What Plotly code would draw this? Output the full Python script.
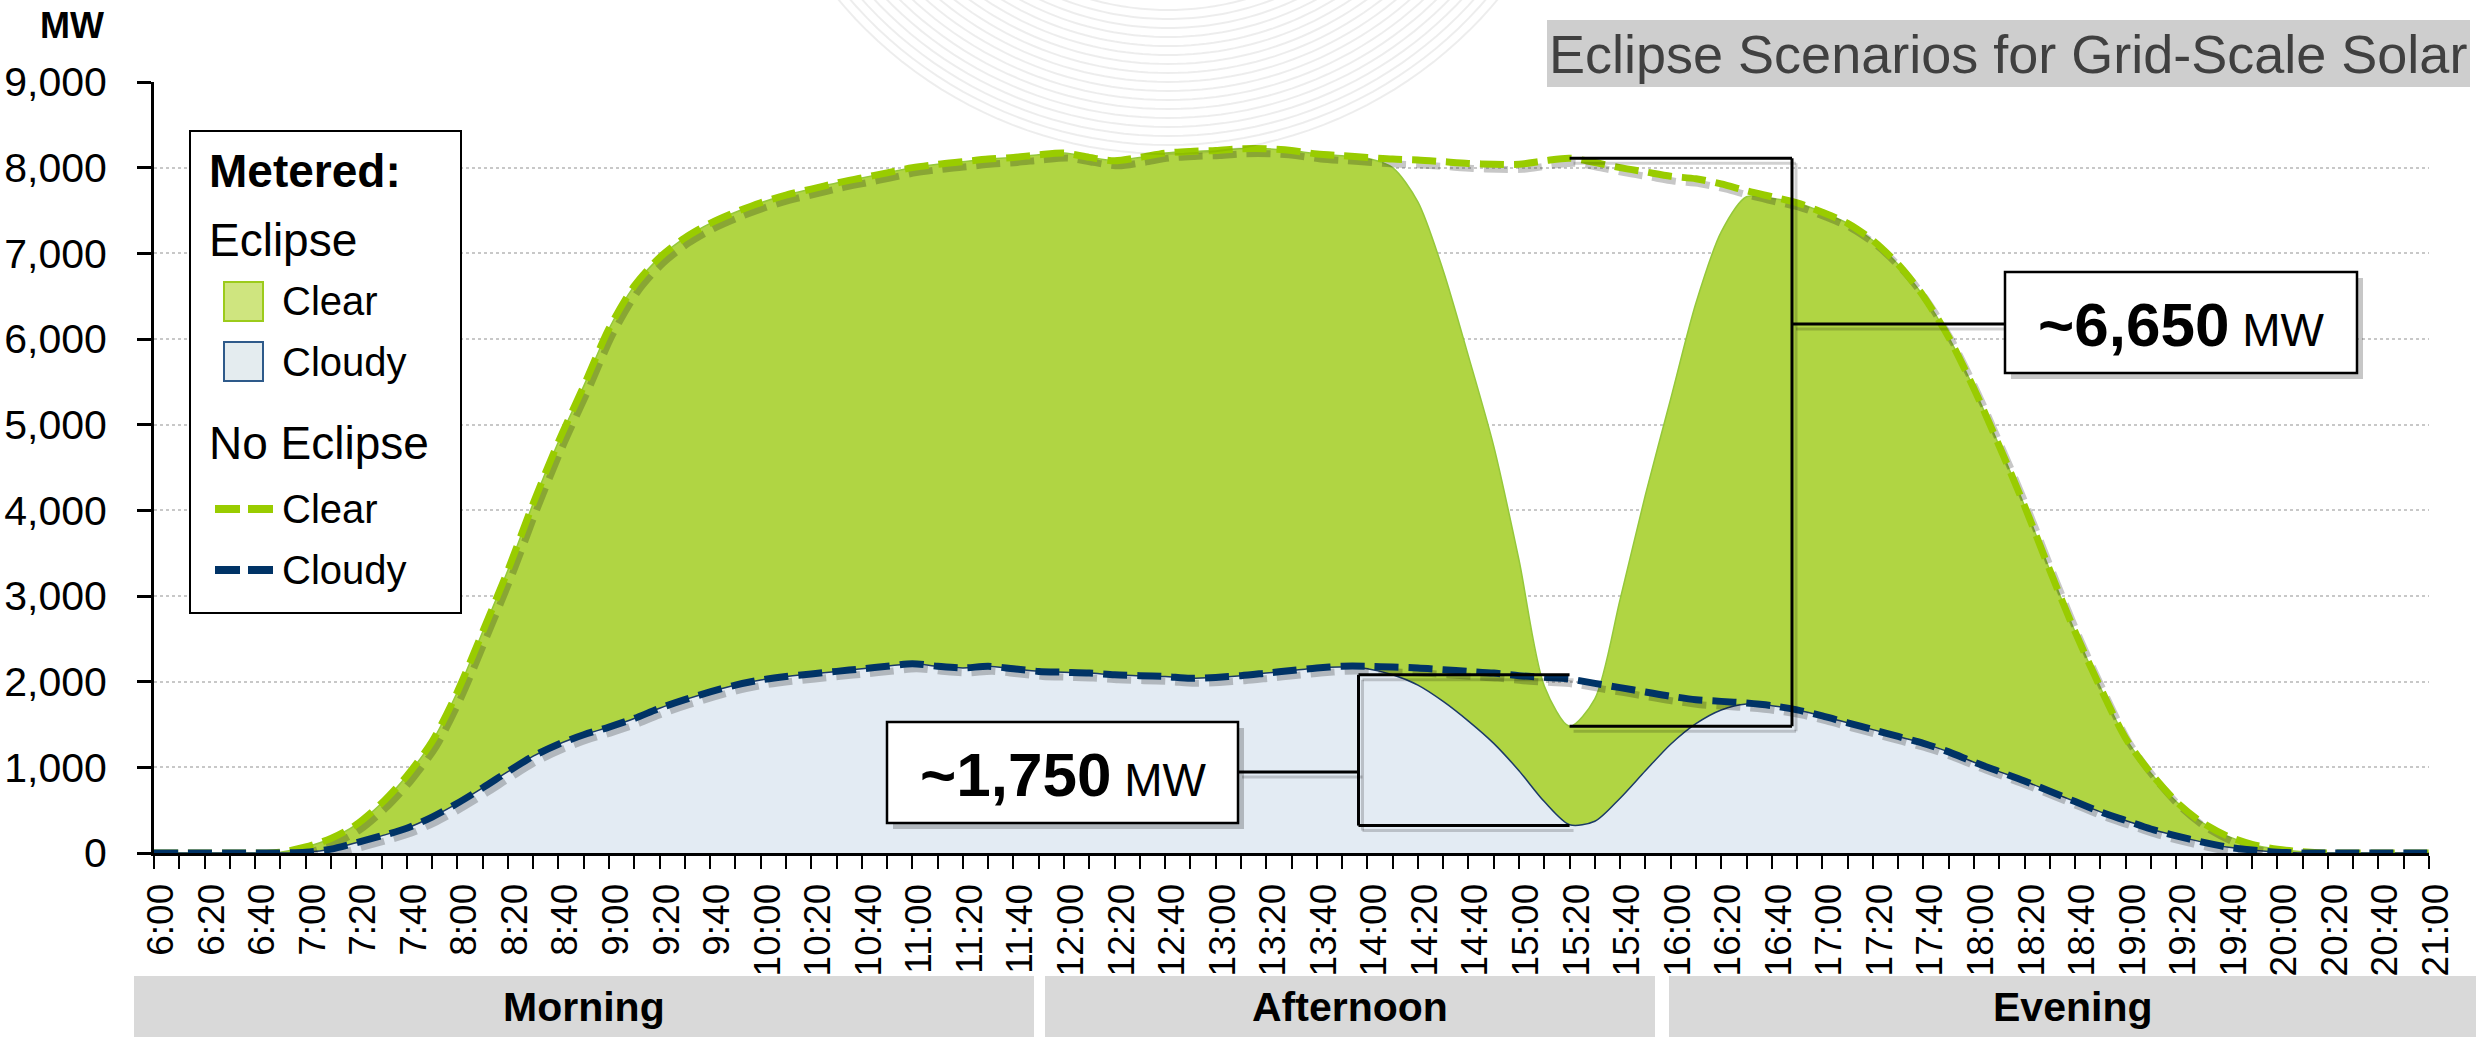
import math
import plotly.graph_objects as go

# ---------------- data ----------------
TIMES = ["6:00", "6:10", "6:20", "6:30", "6:40", "6:50", "7:00", "7:10", "7:20", "7:30", "7:40", "7:50",
         "8:00", "8:10", "8:20", "8:30", "8:40", "8:50", "9:00", "9:10", "9:20", "9:30", "9:40", "9:50",
         "10:00", "10:10", "10:20", "10:30", "10:40", "10:50", "11:00", "11:10", "11:20", "11:30", "11:40", "11:50",
         "12:00", "12:10", "12:20", "12:30", "12:40", "12:50", "13:00", "13:10", "13:20", "13:30", "13:40", "13:50",
         "14:00", "14:10", "14:20", "14:30", "14:40", "14:50", "15:00", "15:10", "15:20", "15:30", "15:40", "15:50",
         "16:00", "16:10", "16:20", "16:30", "16:40", "16:50", "17:00", "17:10", "17:20", "17:30", "17:40", "17:50",
         "18:00", "18:10", "18:20", "18:30", "18:40", "18:50", "19:00", "19:10", "19:20", "19:30", "19:40", "19:50",
         "20:00", "20:10", "20:20", "20:30", "20:40", "20:50", "21:00"]

NO_ECLIPSE_CLEAR = [0, 0, 0, 0, 0, 10, 70, 170, 330, 580, 900, 1300,
                    1880, 2580, 3300, 4080, 4800, 5450, 6120, 6620, 6950, 7180, 7350, 7480,
                    7590, 7680, 7750, 7820, 7880, 7940, 8000, 8040, 8070, 8100, 8120, 8150,
                    8170, 8120, 8080, 8120, 8170, 8190, 8200, 8220, 8220, 8200, 8160, 8140,
                    8120, 8100, 8090, 8070, 8050, 8040, 8040, 8080, 8110, 8060, 8000, 7950,
                    7900, 7870, 7810, 7730, 7660, 7590, 7480, 7350, 7150, 6870, 6500, 6020,
                    5420, 4750, 4050, 3300, 2580, 1930, 1340, 930, 600, 360, 200, 100,
                    45, 15, 0, 0, 0, 0, 0]

NO_ECLIPSE_CLOUDY = [0, 0, 0, 0, 0, 0, 10, 45, 120, 200, 290, 420,
                     580, 760, 950, 1130, 1270, 1380, 1470, 1570, 1690, 1790, 1880, 1960,
                     2020, 2060, 2090, 2120, 2150, 2180, 2210, 2180, 2160, 2180, 2150, 2120,
                     2110, 2100, 2080, 2070, 2060, 2040, 2050, 2070, 2100, 2130, 2160, 2180,
                     2180, 2170, 2160, 2140, 2120, 2100, 2070, 2050, 2030, 1980, 1930, 1880,
                     1830, 1790, 1770, 1750, 1720, 1670, 1600, 1520, 1440, 1360, 1280, 1180,
                     1060, 950, 840, 720, 600, 480, 380, 280, 200, 130, 70, 35,
                     10, 0, 0, 0, 0, 0, 0]

ECLIPSE_CLEAR = [0, 0, 0, 0, 0, 10, 70, 170, 330, 580, 900, 1300,
                 1880, 2580, 3300, 4080, 4800, 5450, 6120, 6620, 6950, 7180, 7350, 7480,
                 7590, 7680, 7750, 7820, 7880, 7940, 8000, 8040, 8070, 8100, 8120, 8150,
                 8170, 8120, 8080, 8120, 8170, 8190, 8200, 8220, 8220, 8200, 8160, 8140,
                 8110, 8000, 7600, 6800, 5800, 4750, 3420, 1950, 1480, 1800, 2960, 4180,
                 5300, 6420, 7250, 7660, 7640, 7590, 7480, 7350, 7150, 6870, 6500, 6020,
                 5420, 4750, 4050, 3300, 2580, 1930, 1340, 930, 600, 360, 200, 100,
                 45, 15, 0, 0, 0, 0, 0]

ECLIPSE_CLOUDY = [0, 0, 0, 0, 0, 0, 10, 45, 120, 200, 290, 420,
                  580, 760, 950, 1130, 1270, 1380, 1470, 1570, 1690, 1790, 1880, 1960,
                  2020, 2060, 2090, 2120, 2150, 2180, 2210, 2180, 2160, 2180, 2150, 2120,
                  2110, 2100, 2080, 2070, 2060, 2040, 2050, 2070, 2100, 2130, 2160, 2170,
                  2150, 2080, 1960, 1770, 1540, 1280, 960, 600, 330, 370, 640, 960,
                  1270, 1510, 1670, 1740, 1720, 1670, 1600, 1520, 1440, 1360, 1280, 1180,
                  1060, 950, 840, 720, 600, 480, 380, 280, 200, 130, 70, 35,
                  10, 0, 0, 0, 0, 0, 0]

Y_TICKS = [0, 1000, 2000, 3000, 4000, 5000, 6000, 7000, 8000, 9000]
X_TICK_LABELS = [t if i % 2 == 0 else "" for i, t in enumerate(TIMES)]
PERIODS = ["Morning", "Afternoon", "Evening"]

# bracket annotations (data units: category index, MW)
DROP_CLEAR = {"x0": 56, "x1": 64.8, "top": 8110, "bottom": 1480, "label": "~6,650"}
DROP_CLOUDY = {"x0": 47.65, "x1": 56, "top": 2080, "bottom": 320, "label": "~1,750"}

# ---------------- layout helpers ----------------
W, H = 2476, 1037
L, R, T, B = 154, 2429, 82, 853
FONT = "Liberation Sans, Arial, Helvetica, sans-serif"
XMAX, YMAX = 90, 9000
SHX, SHY = 4, 5  # drop-shadow offset in pixels
DX = SHX * XMAX / (R - L)
DY = SHY * YMAX / (B - T)


def px(x):
    return (x - L) / (R - L)


def py(y):
    return (B - y) / (B - T)


fig = go.Figure()

SPL = dict(shape="spline", smoothing=0.8)
DASH = "24px,10px"
# areas on the main axes
fig.add_trace(go.Scatter(x=TIMES, y=ECLIPSE_CLEAR, mode="lines", fill="tozeroy",
                         fillcolor="#B0D543", line=dict(color="#95C83A", width=1.5, **SPL),
                         hoverinfo="skip", showlegend=False))
fig.add_trace(go.Scatter(x=TIMES, y=ECLIPSE_CLOUDY, mode="lines", fill="tozeroy",
                         fillcolor="#E3EBF3", line=dict(color="#1B3A66", width=1.5, **SPL),
                         hoverinfo="skip", showlegend=False))
# drop shadows of the dashed lines (same data, axes offset by a few pixels)
for ys in (NO_ECLIPSE_CLEAR, NO_ECLIPSE_CLOUDY):
    fig.add_trace(go.Scatter(x=TIMES, y=ys, mode="lines", xaxis="x2", yaxis="y2",
                             line=dict(color="rgba(0,0,0,0.22)", width=7, dash=DASH, **SPL),
                             hoverinfo="skip", showlegend=False))
# dashed lines on an overlay identical to the main axes
fig.add_trace(go.Scatter(x=TIMES, y=NO_ECLIPSE_CLEAR, mode="lines", xaxis="x3", yaxis="y3",
                         line=dict(color="#99CC00", width=7, dash=DASH, **SPL),
                         hoverinfo="skip", showlegend=False))
fig.add_trace(go.Scatter(x=TIMES, y=NO_ECLIPSE_CLOUDY, mode="lines", xaxis="x3", yaxis="y3",
                         line=dict(color="#003366", width=7, dash=DASH, **SPL),
                         hoverinfo="skip", showlegend=False))

shapes = []
annotations = []

# faint watermark arcs at the top
cxa, cya = 1168, -275
for r in range(285, 435, 9):
    t0 = math.acos(min(1.0, 270 / r))
    pts = []
    n = 48
    for i in range(n + 1):
        t = -t0 + 2 * t0 * i / n
        pts.append((cxa + r * math.sin(t), cya + r * math.cos(t)))
    path = "M " + " L ".join(f"{px(x):.5f},{py(y):.5f}" for x, y in pts)
    shapes.append(dict(type="path", path=path, xref="paper", yref="paper",
                       line=dict(color="rgba(0,0,0,0.07)", width=2), layer="above"))


def rect(x0, y0, x1, y1, fill, line_color=None, lw=0, layer="above"):
    shapes.append(dict(type="rect", xref="paper", yref="paper",
                       x0=px(x0), x1=px(x1), y0=py(y1), y1=py(y0),
                       fillcolor=fill, line=dict(color=line_color or fill, width=lw),
                       layer=layer))


def text(x, y, s, size, bold=False, color="black", xanchor="left"):
    annotations.append(dict(x=px(x), y=py(y), xref="paper", yref="paper",
                            text=f"<b>{s}</b>" if bold else s, showarrow=False,
                            xanchor=xanchor, yanchor="middle",
                            font=dict(family=FONT, size=size, color=color)))


# title box
rect(1547, 20, 2470, 87, "#CECECE")
text(2008, 54, "Eclipse Scenarios for Grid-Scale Solar", 54, color="#404040", xanchor="center")

# MW unit label
text(72, 25, "MW", 36, bold=True, xanchor="center")

# period bands
bands = [(134, 1034), (1045, 1655), (1669, 2476)]
for (x0, x1), name in zip(bands, PERIODS):
    rect(x0, 976, x1, 1037, "#D9D9D9")
    text((x0 + x1) / 2, 1007, name, 41, bold=True, xanchor="center")

# legend
rect(190, 131, 461, 613, "white", "black", 2)
text(207, 171, "Metered:", 46, bold=True)
text(207, 240, "Eclipse", 46)
rect(224, 282, 263, 321, "#CFE57F", "#9CCB1B", 2)
text(280, 301, "Clear", 40)
rect(224, 342, 263, 381, "#E4ECEF", "#2E5A8A", 2)
text(280, 362, "Cloudy", 40)
text(207, 443, "No Eclipse", 46)
for yy, col in [(509, "#99CC00"), (570, "#003366")]:
    for a, b in [(215, 240), (248, 273)]:
        shapes.append(dict(type="line", xref="paper", yref="paper", x0=px(a), x1=px(b),
                           y0=py(yy), y1=py(yy), line=dict(color=col, width=8), layer="above"))
text(280, 509, "Clear", 40)
text(280, 570, "Cloudy", 40)


# brackets with labelled boxes
def bracket(d, box, line_y):
    bx0, by0, bx1, by1 = box
    right_side = bx0 > L + d["x1"] * (R - L) / XMAX
    xv = d["x1"] if right_side else d["x0"]
    xv_px = L + xv * (R - L) / XMAX
    edge = bx0 if right_side else bx1
    for xr, yr, col in (("x2", "y2", "rgba(0,0,0,0.18)"), ("x", "y", "black")):
        line = dict(color=col, width=3)
        shapes.append(dict(type="line", xref=xr, yref=yr, x0=d["x0"], x1=d["x1"],
                           y0=d["top"], y1=d["top"], line=line, layer="above"))
        shapes.append(dict(type="line", xref=xr, yref=yr, x0=d["x0"], x1=d["x1"],
                           y0=d["bottom"], y1=d["bottom"], line=line, layer="above"))
        shapes.append(dict(type="line", xref=xr, yref=yr, x0=xv, x1=xv,
                           y0=d["bottom"], y1=d["top"], line=line, layer="above"))
        off = (SHX, SHY) if xr == "x2" else (0, 0)
        shapes.append(dict(type="line", xref="paper", yref="paper",
                           x0=px(xv_px + off[0]), x1=px(edge + off[0]),
                           y0=py(line_y + off[1]), y1=py(line_y + off[1]),
                           line=line, layer="above"))
    rect(bx0 + 6, by0 + 6, bx1 + 6, by1 + 6, "rgba(0,0,0,0.22)")
    rect(bx0, by0, bx1, by1, "white", "black", 2.5)
    annotations.append(dict(x=px((bx0 + bx1) / 2), y=py((by0 + by1) / 2 + 2), xref="paper",
                            yref="paper", showarrow=False, xanchor="center", yanchor="middle",
                            text=f"<b>{d['label']}</b><span style='font-size:46px'> MW</span>",
                            font=dict(family=FONT, size=62, color="black")))


bracket(DROP_CLEAR, (2005, 272, 2357, 373), 324)
bracket(DROP_CLOUDY, (887, 722, 1238, 823), 772)

HIDDEN = dict(visible=False, showgrid=False, zeroline=False, automargin=False)
fig.update_layout(
    width=W, height=H,
    margin=dict(l=L, r=W - R, t=T, b=H - B, pad=0, autoexpand=False),
    paper_bgcolor="white", plot_bgcolor="rgba(0,0,0,0)",
    showlegend=False,
    font=dict(family=FONT, color="black"),
    shapes=shapes, annotations=annotations,
    xaxis=dict(type="category", range=[0, XMAX], tickmode="array", tickvals=TIMES,
               ticktext=X_TICK_LABELS, tickangle=-90, ticks="outside", ticklen=13,
               tickwidth=2, tickcolor="black", showline=True, linecolor="black",
               linewidth=3, showgrid=False, zeroline=False, automargin=False,
               layer="above traces", ticklabelshift=7,
               tickfont=dict(family=FONT, size=37, color="black")),
    yaxis=dict(range=[0, YMAX], tickmode="array", tickvals=Y_TICKS, tickformat=",",
               ticks="outside", ticklen=14, tickwidth=2.5, tickcolor="black",
               showline=True, linecolor="black", linewidth=3, showgrid=True,
               gridcolor="#C8C8C8", griddash="dot", gridwidth=2, zeroline=False,
               ticklabelstandoff=22, automargin=False,
               tickfont=dict(family=FONT, size=41, color="black")),
    xaxis2=dict(type="category", overlaying="x", range=[-DX, XMAX - DX], **HIDDEN),
    yaxis2=dict(overlaying="y", range=[DY, YMAX + DY], **HIDDEN),
    xaxis3=dict(type="category", overlaying="x", range=[0, XMAX], **HIDDEN),
    yaxis3=dict(overlaying="y", range=[0, YMAX], **HIDDEN),
)

fig.write_html("out.html", config={"displayModeBar": False},
               post_script="document.body.style.margin='0px';")
